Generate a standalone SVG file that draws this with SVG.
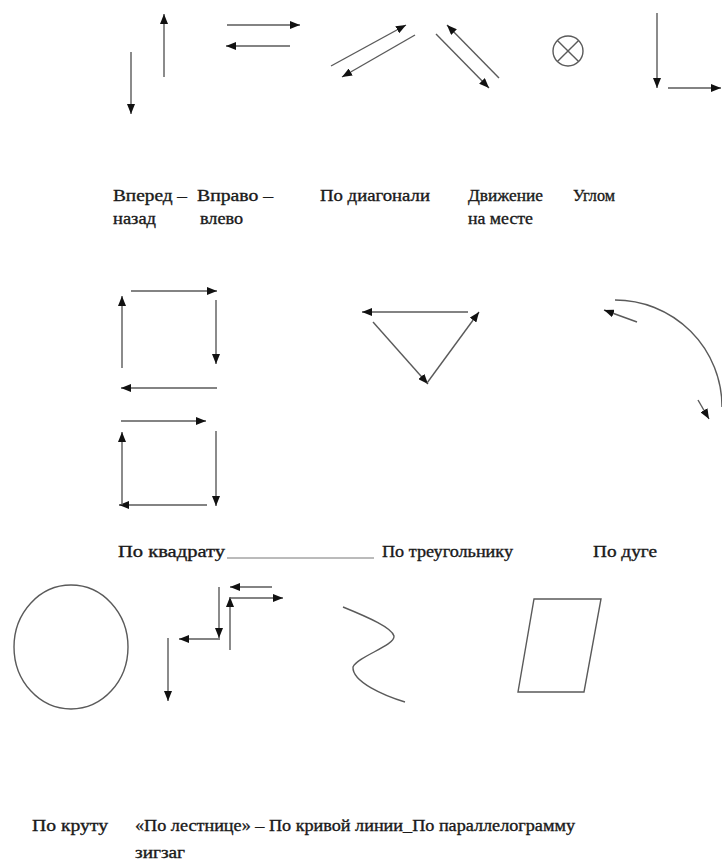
<svg xmlns="http://www.w3.org/2000/svg" width="722" height="868" viewBox="0 0 722 868">
<defs>
<style>
.ln{stroke:#5a5a5a;stroke-width:1.4;fill:none}
.ar{stroke:#5a5a5a;stroke-width:1.4;fill:none;marker-end:url(#ah)}
.tx{font-family:"Liberation Serif","Times New Roman",serif;font-size:16px;fill:#1a1a1a;stroke:#1a1a1a;stroke-width:0.35}
</style>
<marker id="ah" viewBox="0 0 10 8" refX="10" refY="4" markerWidth="10" markerHeight="8" orient="auto" markerUnits="userSpaceOnUse">
<path d="M0,0 L10,4 L0,8 z" fill="#111"/>
</marker>
</defs>
<rect width="722" height="868" fill="#fff"/>

<g id="connectors">
<line class="ar" x1="131" y1="52" x2="131" y2="114"/>
<line class="ar" x1="164" y1="77" x2="164" y2="14"/>
<line class="ar" x1="227" y1="25" x2="300" y2="25"/>
<line class="ar" x1="290" y1="46" x2="226" y2="46"/>
<line class="ar" x1="331" y1="66" x2="406" y2="25"/>
<line class="ar" x1="415" y1="35" x2="342" y2="77"/>
<line class="ar" x1="436" y1="34" x2="489" y2="88"/>
<line class="ar" x1="499" y1="78" x2="447" y2="25"/>
<line class="ar" x1="657" y1="13" x2="657" y2="88"/>
<line class="ar" x1="668" y1="88" x2="721" y2="88"/>
<line class="ar" x1="131" y1="291" x2="217" y2="291"/>
<line class="ar" x1="216" y1="300" x2="216" y2="364"/>
<line class="ar" x1="217" y1="388" x2="121" y2="388"/>
<line class="ar" x1="122" y1="368" x2="122" y2="296"/>
<line class="ar" x1="121" y1="421" x2="206" y2="421"/>
<line class="ar" x1="216" y1="431" x2="216" y2="506"/>
<line class="ar" x1="207" y1="505" x2="119" y2="505"/>
<line class="ar" x1="122" y1="505" x2="122" y2="432"/>
<line class="ar" x1="468" y1="312" x2="362" y2="312"/>
<line class="ar" x1="373" y1="322" x2="428" y2="384"/>
<line class="ar" x1="427" y1="383" x2="479" y2="312"/>
<path class="ln" d="M615,300 A107,107 0 0 1 722,407"/>
<line class="ar" x1="637" y1="322" x2="604" y2="310"/>
<line class="ar" x1="698" y1="400" x2="709" y2="419"/>
<line class="ar" x1="168" y1="638" x2="168" y2="701"/>
<line class="ar" x1="220" y1="639" x2="179" y2="639"/>
<line class="ar" x1="219" y1="587" x2="219" y2="638"/>
<line class="ar" x1="230" y1="650" x2="230" y2="597"/>
<line class="ar" x1="230" y1="598" x2="283" y2="598"/>
<line class="ar" x1="272" y1="587" x2="230" y2="587"/>
</g>

<g id="node-circle-x">
<circle class="ln" cx="568" cy="51" r="15"/>
<line class="ln" x1="557.4" y1="40.4" x2="578.6" y2="61.6"/>
<line class="ln" x1="578.6" y1="40.4" x2="557.4" y2="61.6"/>
</g>

<g id="node-circle">
<ellipse class="ln" cx="71" cy="647" rx="57" ry="62"/>
</g>

<g id="node-curve">
<path class="ln" d="M343,607 C370,618 392,628 394,636 C395,646 358,656 353,667 C352,682 385,696 405,702"/>
</g>

<g id="node-parallelogram">
<polygon class="ln" points="534,599 601,599 584,692 518,692"/>
</g>

<g id="labels">
<text class="tx" x="113" y="201" textLength="74" lengthAdjust="spacingAndGlyphs">Вперед –</text>
<text class="tx" x="113" y="224" textLength="43" lengthAdjust="spacingAndGlyphs">назад</text>
<text class="tx" x="197" y="201" textLength="76" lengthAdjust="spacingAndGlyphs">Вправо –</text>
<text class="tx" x="200" y="224" textLength="43" lengthAdjust="spacingAndGlyphs">влево</text>
<text class="tx" x="320" y="201" textLength="110" lengthAdjust="spacingAndGlyphs">По диагонали</text>
<text class="tx" x="468" y="201" textLength="75" lengthAdjust="spacingAndGlyphs">Движение</text>
<text class="tx" x="468" y="224" textLength="65" lengthAdjust="spacingAndGlyphs">на месте</text>
<text class="tx" x="573" y="201" textLength="42" lengthAdjust="spacingAndGlyphs">Углом</text>

<text class="tx" x="118" y="557" textLength="107" lengthAdjust="spacingAndGlyphs">По квадрату</text>
<line x1="227" y1="558" x2="374" y2="558" stroke="#777" stroke-width="1"/>
<text class="tx" x="382" y="557" textLength="131" lengthAdjust="spacingAndGlyphs">По треугольнику</text>
<text class="tx" x="593" y="557" textLength="64" lengthAdjust="spacingAndGlyphs">По дуге</text>

<text class="tx" x="32" y="831" textLength="76" lengthAdjust="spacingAndGlyphs">По круту</text>
<text class="tx" x="135" y="831" textLength="440" lengthAdjust="spacingAndGlyphs">«По лестнице» – По кривой линии_По параллелограмму</text>
<text class="tx" x="135" y="858" textLength="50" lengthAdjust="spacingAndGlyphs">зигзаг</text>
</g>
</svg>
